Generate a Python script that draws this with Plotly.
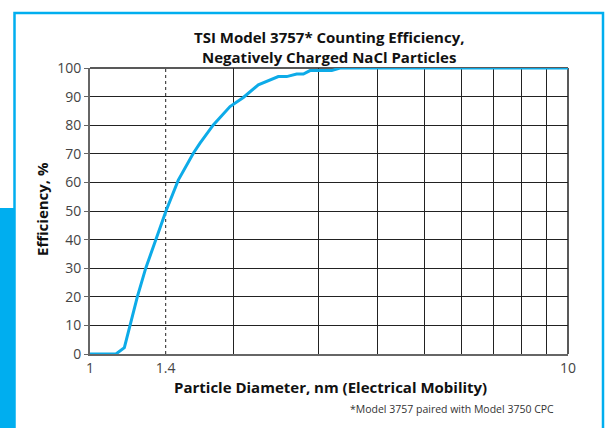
import plotly.graph_objects as go

# Data
diameter_nm = [1.0, 1.133, 1.18, 1.213, 1.256, 1.308, 1.374, 1.442, 1.53, 1.645, 1.699,
               1.811, 1.963, 2.093, 2.25, 2.477, 2.579, 2.706, 2.795, 2.886, 3.204,
               3.334, 5.0, 10.0]
efficiency_pct = [0, 0, 2.2, 10.1, 20, 30, 40, 50, 60.8, 70.2, 73.7,
                  80.1, 86.5, 89.7, 94.1, 97.0, 97.0, 97.9, 97.9, 99.1, 99.1,
                  100, 100, 100]

y_ticks = [0, 10, 20, 30, 40, 50, 60, 70, 80, 90, 100]
x_tick_vals = [1, 1.44, 10]
x_tick_text = ["1", "1.4", "10"]
x_grid_vals = [2, 3, 4, 5, 6, 7, 8, 9, 10]
dash_x = 1.44

title_text = "TSI Model 3757* Counting Efficiency,<br>Negatively Charged NaCl Particles"
x_title = "Particle Diameter, nm (Electrical Mobility)"
y_title = "Efficiency, %"
footnote = "*Model 3757 paired with Model 3750 CPC"

CYAN = "#00AEEF"
FONT = "Open Sans"
W, H = 606, 428
L, R, T, B = 90, 38, 68, 74
pw, ph = W - L - R, H - T - B


def px(x):
    return (x - L) / pw


def py(y):
    return (H - B - y) / ph


fig = go.Figure()
fig.add_trace(go.Scatter(x=diameter_nm, y=efficiency_pct, mode="lines",
                         line=dict(color="#0DABE8", width=3), hoverinfo="skip",
                         cliponaxis=False))

fig.update_layout(
    width=W, height=H,
    margin=dict(l=L, r=R, t=T, b=B),
    paper_bgcolor="white", plot_bgcolor="white",
    showlegend=False,
    font=dict(family=FONT, color="#444"),
    xaxis=dict(type="log", range=[0, 1], tickvals=x_tick_vals, ticktext=x_tick_text,
               showgrid=False, showline=True, linecolor="#666", linewidth=2,
               ticks="", tickfont=dict(size=14, color="#444"), zeroline=False,
               layer="below traces",
               minor=dict(tickvals=x_grid_vals, showgrid=True, gridcolor="#222",
                          gridwidth=1, ticks="")),
    yaxis=dict(range=[0, 100], tickvals=y_ticks, showgrid=True, gridcolor="#222",
               gridwidth=1, showline=True, linecolor="#666", linewidth=2,
               ticks="outside", ticklen=4, tickcolor="#666", tickwidth=1,
               tickfont=dict(size=14, color="#444"), zeroline=False,
               layer="below traces"),
)

shapes = [
    # dashed reference line
    dict(type="line", xref="x", yref="paper", x0=dash_x, x1=dash_x, y0=0, y1=1,
         line=dict(color="#222", width=1, dash="3px,3px"), layer="below"),
    # top and right plot edges
    dict(type="line", xref="paper", yref="paper", x0=0, x1=1, y0=1, y1=1,
         line=dict(color="#222", width=1.5), layer="below"),
    dict(type="line", xref="paper", yref="paper", x0=1, x1=1, y0=0, y1=1,
         line=dict(color="#222", width=1.5), layer="below"),
    # cyan frame
    dict(type="rect", xref="paper", yref="paper", x0=px(14.5), x1=px(603),
         y0=py(440), y1=py(13), line=dict(color=CYAN, width=2.5),
         fillcolor="rgba(0,0,0,0)", layer="below"),
    # left cyan bar
    dict(type="rect", xref="paper", yref="paper", x0=px(0), x1=px(15),
         y0=py(440), y1=py(208), line=dict(width=0), fillcolor=CYAN, layer="below"),
]
fig.update_layout(shapes=shapes)

annotations = [
    dict(text="<b>" + title_text + "</b>", xref="paper", yref="paper",
         x=px(329), y=py(47), xanchor="center", yanchor="middle", showarrow=False,
         font=dict(size=15, color="#111", family=FONT), align="center"),
    dict(text="<b>" + x_title + "</b>", xref="paper", yref="paper",
         x=px(330), y=py(387), xanchor="center", yanchor="middle", showarrow=False,
         font=dict(size=15, color="#111", family=FONT)),
    dict(text="<b>" + y_title + "</b>", xref="paper", yref="paper",
         x=px(42), y=py(209), xanchor="center", yanchor="middle", showarrow=False,
         textangle=-90, font=dict(size=15, color="#111", family=FONT)),
    dict(text=footnote, xref="paper", yref="paper",
         x=px(556), y=py(409), xanchor="right", yanchor="middle", showarrow=False,
         font=dict(size=10.5, color="#333", family=FONT)),
]
fig.update_layout(annotations=annotations)

fig.write_html("out.html", config={"displayModeBar": False},
               post_script="document.body.style.margin='0';document.body.style.overflow='hidden';")
